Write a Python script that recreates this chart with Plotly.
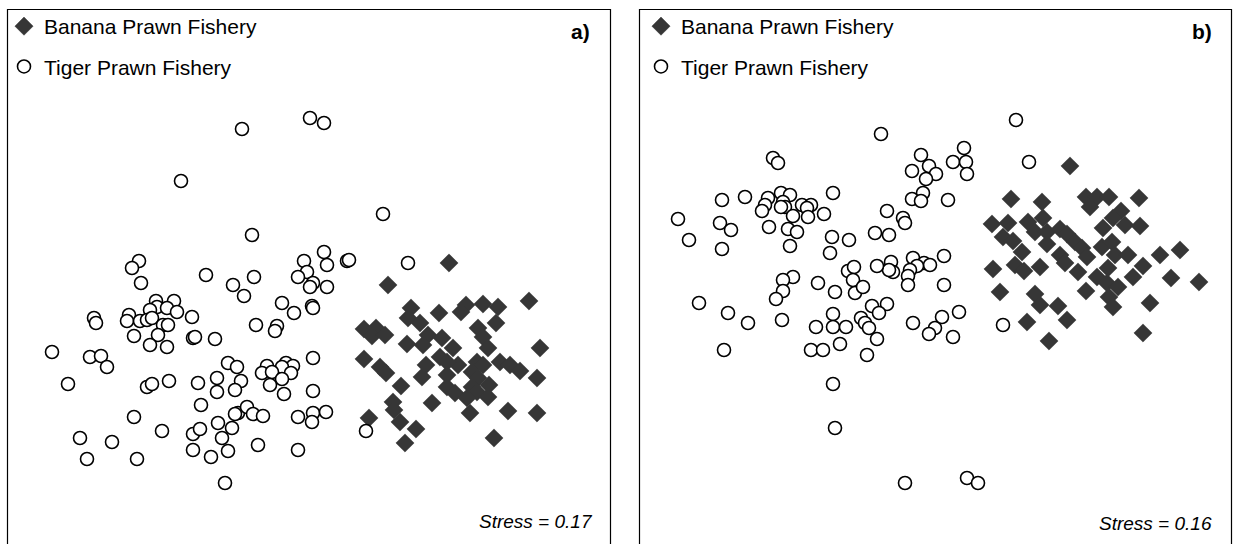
import plotly.graph_objects as go

W, H = 1239, 544

# ---- nMDS ordination scores (screen-oriented units; axis 2 grows downward) ----
# Panel a)
tiger_a_x = [139, 132, 141, 206, 156, 157, 174, 167, 177, 150, 129, 127, 140, 147, 152, 163, 168, 158, 134, 150,
             167, 192, 94, 96, 193, 195, 215, 52, 90, 101, 107, 68, 147, 152, 169, 198, 217, 217, 201, 134,
             162, 80, 112, 87, 137, 193, 200, 193, 211, 218, 222,
             252, 254, 233, 244, 304, 324, 327, 347, 349, 307, 298, 313, 310, 327, 282, 294, 312, 313, 256,
             277, 275, 313, 228, 237, 267, 286, 293, 282, 262, 272, 291, 282, 270, 284, 241, 235, 313, 238,
             235, 247, 253, 263, 298, 313, 326, 312, 232, 228, 258, 298,
             408, 366, 242, 310, 324, 181, 383, 225]
tiger_a_y = [261, 268, 283, 275, 301, 307, 301, 308, 312, 310, 315, 321, 321, 320, 318, 325, 325, 335, 336, 345,
             347, 317, 318, 323, 338, 337, 339, 352, 357, 356, 367, 384, 387, 384, 381, 383, 378, 392, 405, 417,
             431, 438, 442, 459, 459, 434, 429, 450, 457, 423, 438,
             235, 277, 285, 296, 261, 252, 265, 261, 260, 272, 277, 283, 287, 287, 303, 313, 306, 308, 325,
             326, 331, 358, 363, 367, 366, 363, 366, 367, 373, 372, 373, 379, 385, 394, 381, 390, 391, 413,
             414, 407, 414, 416, 417, 413, 412, 422, 428, 451, 445, 450,
             263, 431, 129, 118, 123, 181, 214, 483]

banana_a_x = [449, 388, 529, 411, 439, 466, 483, 498, 461, 408, 420, 496, 364, 376, 372, 385, 478, 483, 488, 428,
              423, 407, 442, 453, 540, 440, 458, 447, 364, 380, 386, 426, 422, 477, 483, 500, 510, 520, 537, 472,
              478, 489, 447, 447, 455, 472, 477, 488, 467, 401, 393, 394, 400, 432, 470, 508, 537, 369, 416, 405,
              494]
banana_a_y = [263, 285, 301, 308, 313, 305, 304, 307, 312, 318, 323, 323, 329, 328, 336, 335, 328, 337, 348, 335,
              345, 344, 338, 348, 348, 357, 365, 362, 359, 367, 373, 365, 377, 362, 365, 362, 365, 371, 378, 372,
              378, 385, 375, 387, 393, 387, 392, 397, 398, 386, 402, 410, 422, 403, 413, 411, 413, 418, 429, 443,
              438]

# Panel b)
tiger_b_x = [773, 778, 722, 745, 833, 768, 781, 790, 783, 785, 781, 765, 762, 802, 811, 807, 793, 808, 824, 678,
             720, 731, 769, 788, 797, 689, 722, 790, 832, 849, 830, 793, 783, 783, 776, 818, 835, 848, 854, 853,
             855, 699, 728, 748, 782, 816, 833, 833, 846, 840, 724, 811, 823,
             881, 964, 953, 966, 967, 921, 929, 912, 936, 926, 923, 912, 921, 948, 887, 903, 905, 875, 889,
             944, 913, 924, 930, 917, 910, 908, 891, 893, 889, 877, 863, 908, 944, 872, 887, 879, 861, 865,
             869, 877, 867, 913, 935, 929, 942, 959, 953,
             1029, 1003, 833, 835, 905, 967, 978, 1016]
tiger_b_y = [158, 163, 200, 197, 193, 198, 193, 195, 202, 207, 207, 205, 211, 205, 205, 208, 216, 217, 214, 219,
             223, 230, 227, 229, 232, 240, 249, 246, 237, 240, 253, 277, 280, 291, 299, 283, 292, 271, 267, 280,
             293, 303, 313, 323, 320, 327, 314, 327, 327, 344, 350, 350, 350,
             134, 148, 162, 162, 174, 155, 166, 171, 174, 179, 193, 199, 201, 200, 211, 218, 223, 233, 235,
             256, 258, 263, 265, 266, 270, 276, 262, 272, 270, 266, 287, 285, 285, 306, 304, 313, 318, 323,
             328, 339, 355, 323, 328, 334, 317, 312, 337,
             162, 325, 384, 428, 483, 478, 483, 120]

banana_b_x = [1070, 1011, 1042, 1086, 1097, 1109, 1090, 1139, 1121, 992, 1008, 1028, 1043, 1113, 1125, 1140, 1003,
              1013, 1035, 1047, 1060, 1067, 1103, 1047, 1075, 1082, 1102, 1112, 1022, 1060, 1087, 1115, 1128, 1160,
              1180, 993, 1015, 1024, 1040, 1065, 1078, 1108, 1097, 1133, 1143, 1171, 1199, 1086, 1107, 1118, 1000,
              1035, 1109, 1113, 1040, 1058, 1150, 1027, 1067, 1049, 1143]
banana_b_y = [166, 199, 202, 197, 197, 197, 207, 198, 211, 224, 223, 222, 218, 218, 225, 226, 237,
              241, 232, 232, 229, 234, 228, 244, 242, 248, 247, 242, 252, 255, 257, 255, 255, 255,
              250, 269, 265, 271, 267, 263, 272, 268, 277, 277, 266, 278, 282, 291, 283, 287, 292,
              294, 297, 307, 305, 306, 303, 322, 320, 341, 333]

series_names = ["Banana Prawn Fishery", "Tiger Prawn Fishery"]
panel_labels = ["a)", "b)"]
stress_values = [0.17, 0.16]

FONT = "Liberation Sans, Arial, sans-serif"
DIAMOND_FILL = "#363636"

fig = go.Figure()

panels = [
    (banana_a_x, banana_a_y, tiger_a_x, tiger_a_y, "x", "y", "legend"),
    (banana_b_x, banana_b_y, tiger_b_x, tiger_b_y, "x2", "y2", "legend2"),
]
for i, (bx, by, tx, ty, xa, ya, lg) in enumerate(panels):
    fig.add_trace(go.Scatter(
        x=bx, y=by, mode="markers", name=series_names[0], xaxis=xa, yaxis=ya,
        legend=lg, legendgroup=f"banana{i}",
        marker=dict(symbol="diamond", size=14, color=DIAMOND_FILL,
                    line=dict(color=DIAMOND_FILL, width=0.5)),
        hoverinfo="skip",
    ))
    fig.add_trace(go.Scatter(
        x=tx, y=ty, mode="markers", name=series_names[1], xaxis=xa, yaxis=ya,
        legend=lg, legendgroup=f"tiger{i}",
        marker=dict(symbol="circle", size=13, color="white",
                    line=dict(color="black", width=1.6)),
        hoverinfo="skip",
    ))

# panel frames (pixel extents)
left_a, right_a = 7, 610
left_b, right_b = 639, 1231
top_px = 9

def px(xp):
    return xp / W

def py(yp):
    return 1 - yp / H

axis_common = dict(visible=False, showgrid=False, zeroline=False, fixedrange=True)
fig.update_layout(
    xaxis=dict(domain=[px(left_a), px(right_a)], range=[left_a, right_a], **axis_common),
    yaxis=dict(domain=[0, py(top_px)], range=[H, top_px], **axis_common),
    xaxis2=dict(domain=[px(left_b), px(right_b)], range=[left_b, right_b], anchor="y2", **axis_common),
    yaxis2=dict(domain=[0, py(top_px)], range=[H, top_px], anchor="x2", **axis_common),
)

shapes = []
for l, r in [(left_a, right_a), (left_b, right_b)]:
    shapes.append(dict(type="rect", xref="paper", yref="paper",
                       x0=px(l + 0.5), x1=px(r + 0.5), y0=-0.05, y1=py(top_px + 0.5),
                       line=dict(color="black", width=1.2), fillcolor="rgba(0,0,0,0)"))

annotations = []
for lab, xr in zip(panel_labels, [592, 1214]):
    annotations.append(dict(text=f"<b>{lab}</b>", x=px(xr), y=py(31), xref="paper", yref="paper",
                            xanchor="right", yanchor="middle", showarrow=False,
                            font=dict(family=FONT, size=21, color="black")))
for s, xr, yp in zip(stress_values, [595, 1214], [521, 523]):
    annotations.append(dict(text=f"<i>Stress = {s:.2f}</i>", x=px(xr), y=py(yp), xref="paper", yref="paper",
                            xanchor="right", yanchor="middle", showarrow=False,
                            font=dict(family=FONT, size=19, color="black")))

legend_common = dict(
    xanchor="left", yanchor="top", bgcolor="rgba(0,0,0,0)", borderwidth=0,
    font=dict(family=FONT, size=21, color="black"),
    traceorder="grouped", tracegroupgap=10, itemclick=False, itemdoubleclick=False,
)
fig.update_layout(
    width=W, height=H,
    margin=dict(l=0, r=0, t=0, b=0),
    paper_bgcolor="white", plot_bgcolor="white",
    showlegend=True,
    legend=dict(x=px(left_a - 3), y=py(top_px - 3), **legend_common),
    legend2=dict(x=px(left_b + 2), y=py(top_px - 3), **legend_common),
    shapes=shapes,
    annotations=annotations,
)

fig.write_html("out.html")
